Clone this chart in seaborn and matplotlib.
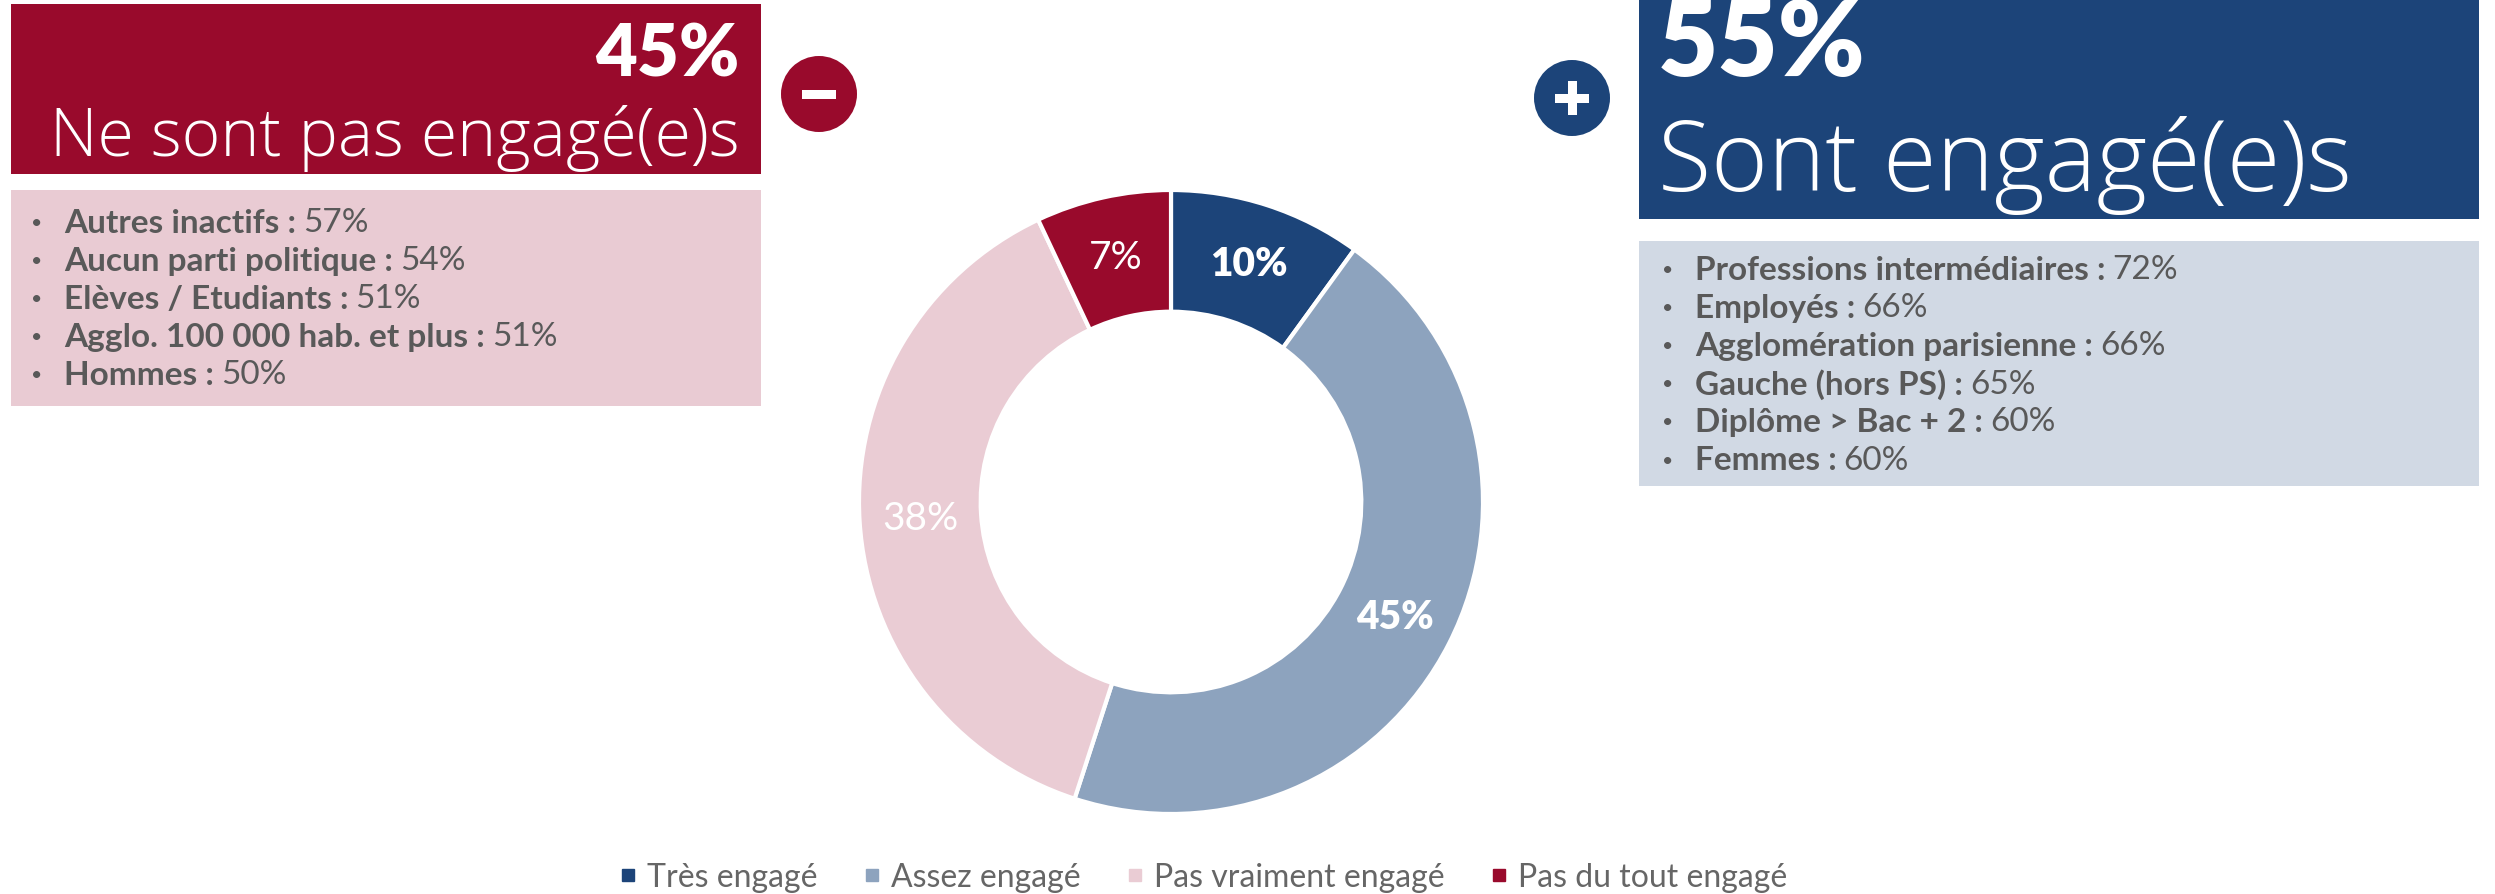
import matplotlib
matplotlib.use("Agg")
import matplotlib.pyplot as plt
from matplotlib.patches import Rectangle, Circle
from matplotlib.lines import Line2D
import seaborn as sns

# ---- data ----
categories = ["Très engagé", "Assez engagé", "Pas vraiment engagé", "Pas du tout engagé"]
values = [10, 45, 38, 7]
value_labels = ["10%", "45%", "38%", "7%"]
label_bold = [True, True, False, False]
colors = ["#1C4479", "#8DA3BE", "#EACCD4", "#990A2C"]

neg_total = "45%"
neg_title = "Ne sont pas engagé(e)s"
neg_items = ["Autres inactifs :", "Aucun parti politique :", "Elèves / Etudiants :",
             "Agglo. 100 000 hab. et plus :", "Hommes :"]
neg_values = ["57%", "54%", "51%", "51%", "50%"]

pos_total = "55%"
pos_title = "Sont engagé(e)s"
pos_items = ["Professions intermédiaires :", "Employés :", "Agglomération parisienne :",
             "Gauche (hors PS) :", "Diplôme > Bac + 2 :", "Femmes :"]
pos_values = ["72%", "66%", "66%", "65%", "60%", "60%"]

RED = "#990A2C"
BLUE = "#1C4479"
PINK_BG = "#E9CBD3"
BLUE_BG = "#D1D9E4"
GREY = "#595959"
LEG_GREY = "#666666"

sns.set_theme(style="white")
plt.rcParams["font.family"] = ["Lato", "DejaVu Sans"]
TITLE_FONT = ["Open Sans", "Lato", "DejaVu Sans"]

W, H = 2495, 895
fig = plt.figure(figsize=(W / 100, H / 100), dpi=100)
fig.patch.set_facecolor("white")

# background layout axes in pixel units
bg = fig.add_axes([0, 0, 1, 1])
bg.set_xlim(0, W)
bg.set_ylim(H, 0)
bg.axis("off")

# left panel
bg.add_patch(Rectangle((11, 5), 750, 170, color=RED, lw=0))
bg.text(740, 76, neg_total, color="white", fontsize=52, fontweight="heavy",
        ha="right", va="baseline")
bg.text(740, 156, neg_title, color="white", fontsize=47.5, fontweight="light",
        family=TITLE_FONT, ha="right", va="baseline")
bg.add_patch(Rectangle((11, 191), 750, 216, color=PINK_BG, lw=0))

# minus icon
bg.add_patch(Circle((819, 95), 38, color=RED, lw=0))
bg.add_patch(Rectangle((819 - 17, 95 - 4.5), 34, 9, color="white", lw=0))

# right panel
bg.add_patch(Rectangle((1639, 0), 840, 220, color=BLUE, lw=0))
bg.text(1658, 76, pos_total, color="white", fontsize=75, fontweight="heavy",
        ha="left", va="baseline")
bg.text(1658, 191, pos_title, color="white", fontsize=70, fontweight="light",
        family=TITLE_FONT, ha="left", va="baseline")
bg.add_patch(Rectangle((1639, 242), 840, 245, color=BLUE_BG, lw=0))

# plus icon
bg.add_patch(Circle((1572, 99), 38, color=BLUE, lw=0))
bg.add_patch(Rectangle((1572 - 17, 99 - 4.5), 34, 9, color="white", lw=0))
bg.add_patch(Rectangle((1572 - 4.5, 99 - 17), 9, 34, color="white", lw=0))


def bullets(x_dot, x_text, y0, dy, items, vals):
    for i, (it, v) in enumerate(zip(items, vals)):
        y = y0 + i * dy
        bg.text(x_dot, y, "•", color=GREY, fontsize=14, ha="left", va="center")
        t = bg.text(x_text, y, it, color=GREY, fontsize=24, fontweight="bold",
                    ha="left", va="center")
        bg.annotate(v, xy=(1, 0), xycoords=t, xytext=(5, 0),
                    textcoords="offset points", color=GREY, fontsize=24,
                    fontweight="normal", ha="left", va="bottom")


bullets(31, 64, 223, 38.2, neg_items, neg_values)
bullets(1662, 1695, 270, 38.2, pos_items, pos_values)

# donut
cx, cy, r = 1171, 503, 312
ax = fig.add_axes([(cx - r) / W, (H - cy - r) / H, 2 * r / W, 2 * r / H])
wedges, texts = ax.pie(values, colors=colors, startangle=90, counterclock=False,
                       radius=1.0, labels=value_labels, labeldistance=0.805,
                       wedgeprops=dict(width=0.39, edgecolor="white", linewidth=3),
                       textprops=dict(color="white", fontsize=28))
for t, b in zip(texts, label_bold):
    t.set_ha("center")
    t.set_va("center")
    t.set_fontweight("heavy" if b else "normal")
ax.set_xlim(-1, 1)
ax.set_ylim(-1, 1)
ax.set_aspect("equal")
ax.axis("off")

handles = [Line2D([0], [0], marker="s", color="none", markerfacecolor=c,
                  markeredgecolor=c, markersize=9) for c in colors]
fig.legend(handles, categories, loc="center", bbox_to_anchor=(1201 / W, 1 - 878 / H),
           ncol=4, frameon=False, fontsize=23, labelcolor=LEG_GREY,
           handletextpad=0.2, columnspacing=1.3, handlelength=0.8)

fig.savefig("out.png", dpi=100, facecolor="white")
